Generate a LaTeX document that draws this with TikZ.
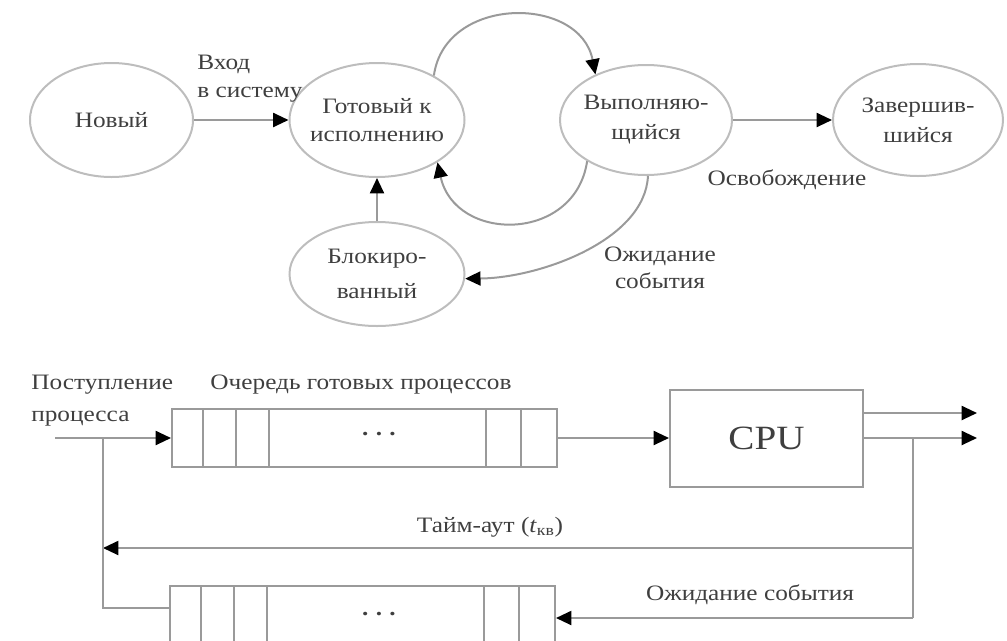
\documentclass[tikz,border=0pt]{standalone}
\usepackage{fontspec}
\setmainfont{Liberation Serif}[FakeStretch=1.15]
\usetikzlibrary{shapes.geometric,arrows.meta}
\definecolor{edgegray}{HTML}{9A9A9A}
\definecolor{ringgray}{HTML}{BDBDBD}
\definecolor{inkgray}{HTML}{3F3F3F}
\begin{document}
\begin{tikzpicture}[x=0.75pt,y=-0.75pt,
  state/.style={ellipse,draw=ringgray,line width=1.5pt,inner sep=0pt},
  lbl/.style={text=inkgray,font=\fontsize{16.5pt}{21pt}\selectfont,inner sep=0pt,align=center},
  link/.style={draw=edgegray,line width=1.5pt},
  arr/.style={link,-{Triangle[length=11.5pt,width=10.5pt,color=black]}},
  queue/.style={rectangle,draw=edgegray,line width=1.5pt,minimum width=288.75pt,minimum height=43.5pt,inner sep=0pt},
]
\useasboundingbox (0,0) rectangle (1007,640);
\clip (0,0) rectangle (1007,640);

% ---- process state diagram ----
\node[state,minimum width=122.25pt,minimum height=85.5pt] (new)   at (111.5,120) {};
\node[state,minimum width=131.25pt,minimum height=85.5pt] (ready) at (377,120) {};
\node[state,minimum width=129pt,minimum height=82.5pt]    (run)   at (646,120) {};
\node[state,minimum width=127.5pt,minimum height=84pt]    (done)  at (918,120) {};
\node[state,minimum width=131.25pt,minimum height=78pt]   (blk)   at (377,274) {};

\node[lbl] (newtxt) at (new) {Новый};
\node[lbl,font=\fontsize{16.5pt}{21pt}\selectfont] (readytxt) at (ready) {Готовый к\\исполнению};
\node[lbl,font=\fontsize{16.5pt}{22.5pt}\selectfont] (runtxt) at (run) {Выполняю-\\щийся};
\node[lbl,font=\fontsize{16.5pt}{22.5pt}\selectfont] (donetxt) at (done) {Завершив-\\шийся};
\node[lbl,font=\fontsize{16.5pt}{26pt}\selectfont] (blktxt) at (blk) {Блокиро-\\ванный};

\draw[arr] (new.east) -- (ready.west);
\draw[arr] (run.east) -- (done.west);
\draw[arr] (blk.north) -- (ready.south);
\draw[arr] (ready.38) .. controls (445,-5) and (580,-5) .. (run.138);
\draw[arr] (run.215) .. controls (575,243) and (455,243) .. (ready.-35);
\draw[arr] (run.272) .. controls (645,240) and (540,278) .. (blk.-3);

\node[lbl,align=left,anchor=west] (entry) at (197,79) {Вход\\в систему};
\node[lbl] (release) at (787,180) {Освобождение};
\node[lbl,font=\fontsize{16.5pt}{20.25pt}\selectfont] (waitev) at (660,268) {Ожидание\\события};

% ---- queueing scheme ----
\node[queue] (q1) at (364.5,438) {};
\node[queue,minimum height=48pt] (q2) at (362.5,618) {};
\node[rectangle,draw=edgegray,line width=1.5pt,minimum width=144.75pt,minimum height=72.75pt,inner sep=0pt] (cpu) at (766.5,438) {};

\foreach \d in {32,65,98,315,350} {
  \draw[link] ([xshift=\d*0.75pt]q1.north west) -- ([xshift=\d*0.75pt]q1.south west);
  \draw[link] ([xshift=\d*0.75pt]q2.north west) -- ([xshift=\d*0.75pt]q2.south west);
}
\node[lbl,font=\bfseries\fontsize{16.5pt}{21pt}\selectfont] (q1dots) at (379,434) {.\,\,.\,\,.};
\node[lbl,font=\bfseries\fontsize{16.5pt}{21pt}\selectfont] (q2dots) at (379,614) {.\,\,.\,\,.};
\node[lbl,font=\fontsize{25.5pt}{30pt}\selectfont] (cputxt) at (cpu) {CPU};

\coordinate (src)  at (55,438);
\coordinate (out1) at (977,413);
\coordinate (out2) at (977,438);
\coordinate (rt)   at (913,438);
\coordinate (rm)   at (913,548);
\coordinate (rb)   at (913,618);
\coordinate (lt)   at (103,438);
\coordinate (lm)   at (103,548);
\coordinate (lb)   at (103,608);

\draw[arr] (src) -- (q1.west);
\draw[arr] (q1.east) -- (cpu.west);
\draw[arr] (cpu.east |- out1) -- (out1);
\draw[arr] (cpu.east) -- (out2);
\draw[link] (rt) -- (rb);
\draw[arr] (rm) -- (lm);
\draw[arr] (rb) -- (q2.east);
\draw[link] (lt) -- (lb) -- (q2.west |- lb);

\node[lbl,align=left,anchor=west,font=\fontsize{16.5pt}{24pt}\selectfont] (arrive) at (31,401) {Поступление\\процесса};
\node[lbl] (qtitle) at (361,385) {Очередь готовых процессов};
\node[lbl] (timeout) at (490,527) {Тайм-аут (\textit{t}\textsubscript{кв})};
\node[lbl] (waitq) at (750,595) {Ожидание события};
\end{tikzpicture}
\end{document}
